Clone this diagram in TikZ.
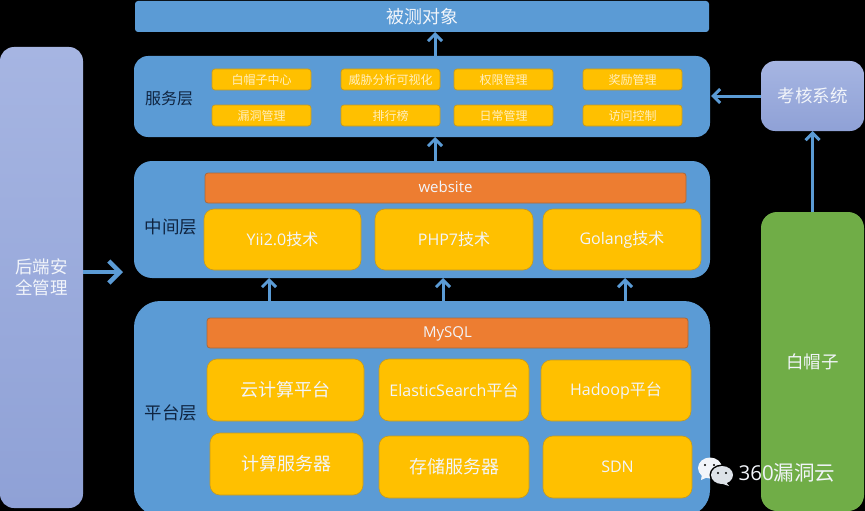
\documentclass[tikz,border=0pt]{standalone}
\usepackage{fontspec}
\setmainfont{Noto Sans CJK SC}
\newfontfamily\latinf{Open Sans}
\usetikzlibrary{arrows.meta}
\definecolor{panelblue}{HTML}{5B9BD5}
\definecolor{goldfill}{HTML}{FFC000}
\definecolor{goldedge}{HTML}{C49A20}
\definecolor{orangefill}{HTML}{ED7D31}
\definecolor{orangeedge}{HTML}{A8683C}
\definecolor{greenfill}{HTML}{70AD47}
\definecolor{navytext}{HTML}{0F2440}
\definecolor{chiptext}{HTML}{FFEFC0}
\definecolor{softwhite}{HTML}{F2F5FA}
\definecolor{softgrey}{HTML}{DDE2E8}
\definecolor{lavtop}{HTML}{A6B5E2}
\definecolor{lavbot}{HTML}{8FA1D6}
\tikzset{
  x=1pt,y=-1pt,
  sized/.style 2 args={minimum width=#1pt,minimum height=#2pt},
  box/.style={anchor=north west,inner sep=0pt,outer sep=0pt,align=center},
  panel/.style={box,fill=panelblue,rounded corners=#1},
  panel/.default=16pt,
  chip/.style={box,fill=goldfill,draw=goldedge,line width=.7pt,rounded corners=3pt,text=chiptext,font=\fontsize{12}{14}\selectfont},
  tile/.style={box,fill=goldfill,draw=goldedge,line width=.6pt,rounded corners=10pt,text=softwhite,font=\fontsize{18}{20}\selectfont},
  latintile/.style={tile,font=\fontsize{16}{20}\selectfont},
  bar/.style={box,fill=orangefill,draw=orangeedge,line width=.8pt,rounded corners=3pt,text=softwhite,text height=11pt,text depth=3pt,font=\fontsize{15}{17}\selectfont},
  layer/.style={text=navytext,inner sep=0pt,font=\fontsize{17.5}{20}\selectfont},
  arr/.style={draw=panelblue,line width=3pt,-{Straight Barb[length=7pt,width=14pt,line width=3pt]}},
  bigarr/.style={draw=panelblue,line width=4.5pt,-{Straight Barb[length=11pt,width=22pt,line width=4.5pt]}},
}
\begin{document}
\begin{tikzpicture}
\useasboundingbox (0,0) rectangle (865,511);
\fill[black] (0,0) rectangle (865,511);
% panels
\node[panel=3pt,sized={574}{31},text=softwhite,font=\fontsize{18}{20}\selectfont] (target) at (135,1) {被测对象};
\node[panel=14pt,sized={576}{81}] (svc) at (134,56) {};
\node[panel=18pt,sized={576}{117}] (mid) at (134,161) {};
\node[panel=26pt,sized={576}{215}] (plat) at (134,301) {};
\node[layer,font=\fontsize{16}{18}\selectfont] (svclabel) at (169,98) {服务层};
\node[layer] (midlabel) at (171,227) {中间层};
\node[layer] (platlabel) at (171,413) {平台层};
% service chips
\node[chip,sized={99}{21}] (c1) at (212,69) {白帽子中心};
\node[chip,sized={99}{21}] (c2) at (341,69) {威胁分析可视化};
\node[chip,sized={99}{21}] (c3) at (454,69) {权限管理};
\node[chip,sized={99}{21}] (c4) at (583,69) {奖励管理};
\node[chip,sized={99}{21}] (c5) at (212,105) {漏洞管理};
\node[chip,sized={99}{21}] (c6) at (341,105) {排行榜};
\node[chip,sized={99}{21}] (c7) at (454,105) {日常管理};
\node[chip,sized={99}{21}] (c8) at (583,105) {访问控制};
% middle
\node[bar,sized={481}{30}] (web) at (205,173) {{\latinf website}};
\node[latintile,sized={157}{61}] (yii) at (204,209) {{\latinf Yii2.0}技术};
\node[latintile,sized={158}{61}] (php) at (375,209) {{\latinf PHP7}技术};
\node[latintile,sized={158}{61}] (go) at (543,209) {{\latinf Golang}技术};
% platform
\node[bar,sized={481}{30}] (mysql) at (207,318) {{\latinf MySQL}};
\node[tile,sized={157}{62}] (p1) at (207,359) {云计算平台};
\node[latintile,sized={150}{62}] (p2) at (379,359) {{\latinf ElasticSearch}平台};
\node[latintile,sized={150}{61}] (p3) at (541,360) {{\latinf Hadoop}平台};
\node[tile,sized={153}{62}] (p4) at (210,433) {计算服务器};
\node[tile,sized={150}{62}] (p5) at (379,436) {存储服务器};
\node[latintile,sized={149}{62}] (p6) at (543,436) {{\latinf SDN}};
% sides
\node[box,rounded corners=14pt,sized={83}{461},top color=lavtop,bottom color=lavbot,text=softwhite,font=\fontsize{17.5}{21}\selectfont] (sec) at (0,47) {后端安\\全管理};
\node[box,rounded corners=14pt,sized={103}{70},top color=lavtop,bottom color=lavbot,text=softwhite,font=\fontsize{17.5}{20}\selectfont] (exam) at (761,61) {考核系统};
\node[box,rounded corners=16pt,sized={103}{299},fill=greenfill,text=softwhite,font=\fontsize{17.5}{20}\selectfont] (hat) at (761,212) {白帽子};
% connector positions
\coordinate (xa) at (435,0);
\coordinate (xb) at (269,0);
\coordinate (xc) at (443,0);
\coordinate (xd) at (625,0);
\coordinate (ysec) at (0,272);
\coordinate (yexam) at (0,96);
\coordinate (midleft) at (123,272);
\coordinate (svcright) at (711,96);
% connectors
\draw[arr] (svc.north -| xa) -- (target.south -| xa);
\draw[arr] (mid.north -| xa) -- (svc.south -| xa);
\draw[arr] (plat.north -| xb) -- (mid.south -| xb);
\draw[arr] (plat.north -| xc) -- (mid.south -| xc);
\draw[arr] (plat.north -| xd) -- (mid.south -| xd);
\draw[bigarr] (sec.east |- ysec) -- (midleft);
\draw[arr] (exam.west |- yexam) -- (svcright);
\draw[arr] (hat.north) -- (exam.south);
% watermark
\fill[softwhite] (710,468) ellipse (12pt and 10.5pt);
\fill[softwhite] (702,474) -- (701,480) -- (708,477) -- cycle;
\fill[black] (722,475) ellipse (12.5pt and 10.5pt);
\fill[softgrey] (722,475) ellipse (11pt and 9pt);
\fill[softgrey] (725,481) -- (729,486) -- (720,483) -- cycle;
\fill[black] (705,465) circle (1.1pt) (714,465) circle (1.1pt) (718,473) circle (1.1pt) (726,473) circle (1.1pt);
\node[text=softwhite,inner sep=0pt,font=\fontsize{20.5}{22}\selectfont] (mark) at (787,473) {{\latinf 360}漏洞云};
\end{tikzpicture}
\end{document}
